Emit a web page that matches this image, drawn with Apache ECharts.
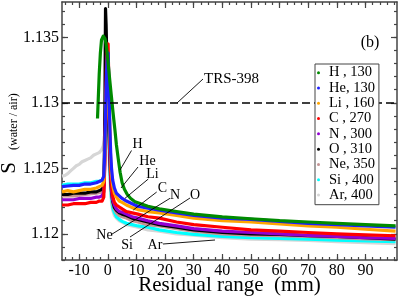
<!DOCTYPE html>
<html>
<head>
<meta charset="utf-8">
<script src="https://cdn.jsdelivr.net/npm/echarts@6/dist/echarts.min.js"></script>
<style>
html,body{margin:0;padding:0;background:#fff;}
#c{width:399px;height:299px;}
</style>
</head>
<body>
<div id="c"></div>
<script>
// ---- data ----
const seriesNames = ['H , 130', 'He, 130', 'Li , 160', 'C , 270', 'N , 300', 'O , 310', 'Ne, 350', 'Si , 400', 'Ar, 400'];

const dataH = [[-3.6,1.1288],[-3.3,1.1305],[-3.0,1.1322],[-2.6,1.1338],[-2.2,1.1348],[-1.6,1.1351],[-1.0,1.1349],[-0.6,1.1345],[0.0,1.1333],[0.6,1.1319],[1.2,1.1306],[1.8,1.1293],[2.5,1.1279],[3.0,1.1268],[3.6,1.1258],[4.3,1.1247],[5.0,1.1239],[5.8,1.1234],[6.8,1.1230],[8.0,1.1227],[9.5,1.12245],[11.5,1.1223],[14,1.1221],[18,1.1219],[24,1.1217],[30,1.1215],[40,1.1213],[50,1.12115],[60,1.1210],[70,1.1209],[80,1.1208],[90,1.1207],[100.5,1.1206]];

const dataHe = [[-16,1.1236],[-14,1.12365],[-12,1.1237],[-10,1.1237],[-8,1.1238],[-6,1.1238],[-4,1.1239],[-3,1.1240],[-2,1.1241],[-1.4,1.1244],[-1.1,1.1260],[-0.8,1.1290],[-0.5,1.1318],[-0.2,1.1336],[0.1,1.1338],[0.4,1.1312],[0.7,1.1282],[1.0,1.1262],[1.3,1.1250],[1.7,1.1241],[2.3,1.1235],[3.0,1.1231],[4.0,1.1229],[5.0,1.1227],[6.5,1.1225],[8.5,1.1223],[10.5,1.1221],[14,1.12195],[18,1.1218],[24,1.1216],[30,1.1214],[40,1.1212],[50,1.1211],[60,1.12095],[70,1.1208],[80,1.1207],[90,1.1206],[100.5,1.1205]];

const dataLi = [[-16,1.1232],[-14,1.1233],[-12,1.1232],[-10,1.1233],[-8,1.1234],[-6,1.1234],[-4,1.1235],[-3,1.1236],[-2,1.1237],[-1.4,1.1240],[-1.1,1.1255],[-0.8,1.1282],[-0.5,1.1310],[-0.2,1.1326],[0.1,1.1328],[0.4,1.1305],[0.7,1.1276],[1.0,1.1256],[1.3,1.1245],[1.7,1.1237],[2.3,1.1231],[3.0,1.1228],[4.0,1.1225],[5.0,1.1224],[6.5,1.1222],[8.5,1.1220],[10.5,1.12185],[14,1.1217],[18,1.1216],[24,1.1214],[30,1.1212],[40,1.1210],[50,1.1209],[60,1.12075],[70,1.1206],[80,1.1205],[90,1.12035],[100.5,1.1202]];

const dataC = [[-16,1.1222],[-14,1.1222],[-12,1.1223],[-10,1.1223],[-8,1.1223],[-6,1.1224],[-4,1.1224],[-3,1.1225],[-2,1.1225],[-1.4,1.1228],[-1.1,1.1250],[-0.8,1.1290],[-0.5,1.1325],[-0.2,1.1343],[0.1,1.1345],[0.4,1.1310],[0.7,1.1272],[1.0,1.1248],[1.3,1.1236],[1.7,1.1229],[2.3,1.1224],[3.0,1.1222],[4.0,1.12205],[5.0,1.1219],[6.5,1.1217],[8.5,1.1216],[10.5,1.1215],[14,1.1213],[18,1.1212],[24,1.1209],[30,1.1207],[40,1.1205],[50,1.1203],[60,1.1202],[70,1.1201],[80,1.1200],[90,1.11992],[100.5,1.11985]];

const dataN = [[-16,1.1226],[-14,1.1226],[-12,1.1226],[-10,1.1227],[-8,1.1227],[-6,1.1227],[-4,1.1228],[-3,1.1228],[-2,1.1229],[-1.4,1.1232],[-1.1,1.1252],[-0.8,1.1285],[-0.5,1.1315],[-0.2,1.1325],[0.1,1.1324],[0.4,1.1298],[0.7,1.1265],[1.0,1.1244],[1.3,1.1233],[1.7,1.1226],[2.3,1.1222],[3.0,1.1219],[4.0,1.1217],[5.0,1.12165],[6.5,1.1215],[8.5,1.1213],[10.5,1.1212],[14,1.1210],[18,1.1208],[24,1.1206],[30,1.1204],[40,1.1202],[50,1.1201],[60,1.1200],[70,1.11988],[80,1.1198],[90,1.1197],[100.5,1.11965]];

const dataO = [[-16,1.1230],[-14,1.1230],[-12,1.1231],[-10,1.1231],[-8,1.1231],[-6,1.1232],[-4,1.1232],[-3,1.1233],[-2,1.1234],[-1.4,1.1237],[-1.2,1.1262],[-1.0,1.1300],[-0.9,1.1340],[-0.8,1.1372],[-0.6,1.1360],[-0.3,1.1330],[0.1,1.1300],[0.4,1.1278],[0.7,1.1258],[1.0,1.1242],[1.3,1.1232],[1.7,1.1225],[2.3,1.1220],[3.0,1.1218],[4.0,1.1216],[5.0,1.1215],[6.5,1.1214],[8.5,1.1212],[10.5,1.1211],[14,1.1209],[18,1.1207],[24,1.1205],[30,1.1203],[40,1.1201],[50,1.1200],[60,1.11995],[70,1.11985],[80,1.1198],[90,1.1197],[100.5,1.1196]];

const dataNe = [[-16,1.1229],[-12,1.1229],[-8,1.1230],[-4,1.1231],[-2,1.1232],[-1.4,1.1235],[-1.1,1.1255],[-0.8,1.1280],[-0.5,1.1300],[-0.2,1.1310],[0.1,1.1305],[0.4,1.1282],[0.7,1.1258],[1.0,1.1240],[1.3,1.1230],[1.7,1.1223],[2.3,1.1219],[3.0,1.1216],[4.0,1.1214],[5.0,1.1213],[6.5,1.1212],[8.5,1.1210],[10.5,1.1209],[14,1.1207],[18,1.1206],[24,1.1204],[30,1.1202],[40,1.1200],[50,1.1199],[60,1.11985],[70,1.1198],[80,1.1197],[90,1.11962],[100.5,1.11955]];

const dataSi = [[-16,1.1237],[-14,1.1238],[-12,1.1238],[-10,1.1238],[-8,1.1239],[-6,1.1239],[-4,1.1240],[-3,1.1240],[-2,1.1241],[-1.4,1.1243],[-1.1,1.1255],[-0.8,1.1275],[-0.5,1.1292],[-0.2,1.1300],[0.1,1.1296],[0.4,1.1275],[0.7,1.1252],[1.0,1.1236],[1.3,1.1227],[1.7,1.1220],[2.3,1.1216],[3.0,1.1213],[4.0,1.1211],[5.0,1.12095],[6.5,1.1208],[8.5,1.1207],[10.5,1.1206],[14,1.1205],[18,1.1203],[24,1.1201],[30,1.11995],[40,1.1198],[50,1.1197],[60,1.11965],[70,1.1196],[80,1.11952],[90,1.11945],[100.5,1.1194]];

const dataAr = [[-16,1.1244],[-15,1.12445],[-14,1.1246],[-13,1.1248],[-12,1.1250],[-11,1.1252],[-10,1.1253],[-9,1.1255],[-8,1.1256],[-7,1.1257],[-6,1.1258],[-5,1.1260],[-4,1.1261],[-3,1.1262],[-2.2,1.1264],[-1.6,1.1267],[-1.2,1.1272],[-0.9,1.1285],[-0.6,1.1292],[-0.3,1.1290],[0.1,1.1280],[0.4,1.1262],[0.7,1.1245],[1.0,1.1232],[1.3,1.1224],[1.7,1.1218],[2.3,1.1214],[3.0,1.1212],[4.0,1.1210],[5.0,1.1209],[6.5,1.1207],[8.5,1.1206],[10.5,1.1205],[14,1.1203],[18,1.1202],[24,1.1200],[30,1.1199],[40,1.1197],[50,1.1196],[60,1.11955],[70,1.1195],[80,1.1194],[90,1.11932],[100.5,1.11925]];

const trsValue = [1.13];

// ---- axis ticks ----
const xMajorTicks = [-10, 0, 10, 20, 30, 40, 50, 60, 70, 80, 90];
const xTickLabels = ['-10', '0', '10', '20', '30', '40', '50', '60', '70', '80', '90'];
const yMajorTicks = [1.12, 1.125, 1.13, 1.135];
const yTickLabels = ['1.12', '1.125', '1.13', '1.135'];
const xMinorTicks = [];
for (let i = -6; i <= 40; i++) xMinorTicks.push(i * 2.5);
const yMinorTicks = [];
for (let i = 1118; i <= 1137; i++) yMinorTicks.push(i / 1000);

// ---- styling ----
const FONT = 'Liberation Serif';
const AX = '#444';
const colors = ['#008b00', '#1f1fff', '#ffa500', '#ff0000', '#9400d3', '#000000', '#c49494', '#00ffff', '#d6d6d6'];
const allData = [dataH, dataHe, dataLi, dataC, dataN, dataO, dataNe, dataSi, dataAr];

const X_MIN = -16, X_MAX = 101, Y_MIN = 1.118, Y_MAX = 1.1377;

function xAx(pos, ticks, len, main) {
  return {
    type: 'value', position: pos, min: X_MIN, max: X_MAX,
    axisLine: { show: main, onZero: false, lineStyle: { color: AX, width: 1.5 } },
    axisTick: { show: true, inside: true, length: len, customValues: ticks, lineStyle: { color: AX, width: 1.2 } },
    axisLabel: main && pos === 'bottom' ? {
      customValues: xMajorTicks, margin: 3, color: '#000', fontFamily: FONT, fontSize: 16,
      formatter: v => xTickLabels[xMajorTicks.indexOf(v)] ?? ''
    } : { show: false },
    splitLine: { show: false },
    name: main && pos === 'bottom' ? 'Residual range  (mm)' : '',
    nameLocation: 'middle', nameGap: 15, nameMoveOverlap: false,
    nameTextStyle: { fontFamily: FONT, fontSize: 21, color: '#000' }
  };
}
function yAx(pos, ticks, len, main) {
  const isLeftMain = main && pos === 'left';
  return {
    type: 'value', position: pos, min: Y_MIN, max: Y_MAX,
    axisLine: { show: main, onZero: false, lineStyle: { color: AX, width: 1.5 } },
    axisTick: { show: true, inside: true, length: len, customValues: ticks, lineStyle: { color: AX, width: 1.2 } },
    axisLabel: isLeftMain ? {
      customValues: yMajorTicks, margin: 3, color: '#000', fontFamily: FONT, fontSize: 16,
      formatter: v => { const i = yMajorTicks.findIndex(t => Math.abs(t - v) < 1e-9); return i >= 0 ? yTickLabels[i] : ''; }
    } : { show: false },
    splitLine: { show: false },
    name: isLeftMain ? '{s|S}{sub|(water / air)}' : '',
    nameLocation: 'middle', nameGap: 42, nameMoveOverlap: false,
    nameTextStyle: {
      fontFamily: FONT, color: '#000', padding: [0, 5, 0, 0],
      rich: {
        s: { fontFamily: FONT, fontSize: 21, color: '#000' },
        sub: { fontFamily: FONT, fontSize: 12, color: '#000', verticalAlign: 'bottom', padding: [0, 0, 0, 12] }
      }
    }
  };
}

const series = [];
for (let k = allData.length - 1; k >= 0; k--) {
  const s = {
    name: seriesNames[k], type: 'line', xAxisIndex: 0, yAxisIndex: 0,
    data: allData[k], showSymbol: false, symbol: 'circle', symbolSize: 3,
    lineStyle: { color: colors[k], width: 3.2, join: 'round' },
    itemStyle: { color: colors[k] },
    emphasis: { disabled: true }, silent: true, z: 2
  };
  if (k === 0) {
    s.markLine = {
      silent: true, symbol: 'none', animation: false,
      label: { show: false },
      lineStyle: { color: '#000', width: 1.5, type: [8, 4] },
      data: [{ yAxis: trsValue[0] }]
    };
  }
  series.push(s);
}

const T = (text, x, y, size, align) => ({
  type: 'text', x: x, y: y, z: 50,
  style: { text: text, fontFamily: FONT, fontSize: size || 14, fill: '#000', align: align || 'center', verticalAlign: 'middle' }
});
const L = (x1, y1, x2, y2) => ({
  type: 'line', z: 50, shape: { x1: x1, y1: y1, x2: x2, y2: y2 },
  style: { stroke: '#000', lineWidth: 0.9 }
});

const option = {
  animation: false,
  backgroundColor: '#fff',
  grid: { left: 62, right: 2, top: 2, bottom: 39, containLabel: false, outerBoundsMode: 'none' },
  xAxis: [xAx('bottom', xMajorTicks, 6, true), xAx('bottom', xMinorTicks, 3, false), xAx('top', xMajorTicks, 6, true), xAx('top', xMinorTicks, 3, false)],
  yAxis: [yAx('left', yMajorTicks, 6, true), yAx('left', yMinorTicks, 3, false), yAx('right', yMajorTicks, 6, true), yAx('right', yMinorTicks, 3, false)],
  legend: {
    orient: 'vertical', left: 315, top: 64, z: 30, zlevel: 1,
    itemWidth: 11, itemHeight: 3, itemGap: 0, icon: 'circle',
    padding: [1, 4, 2, 2], backgroundColor: '#fff', borderColor: '#444', borderWidth: 1, borderRadius: 0,
    textStyle: { fontFamily: FONT, fontSize: 14.5, color: '#000', lineHeight: 15.3 },
    selectedMode: false,
    data: seriesNames
  },
  series: series,
  graphic: [
    T('(b)', 370, 43, 16),
    T('TRS-398', 204, 79, 15, 'left'),
    L(177, 103, 203, 79),
    T('H', 137.5, 144), L(131.5, 150.5, 120, 170),
    T('He', 147.5, 161), L(138, 167, 121, 188),
    T('Li', 152.5, 174), L(148.3, 179, 125, 198.3),
    T('C', 162.5, 188), L(156.7, 192, 133.3, 210),
    T('N', 175, 195), L(170, 198.3, 111.7, 234.3),
    T('O', 195, 195), L(190, 198, 130, 237),
    T('Ne', 104.5, 235),
    T('Si', 127, 245),
    T('Ar', 155, 245), L(163, 244, 215, 240)
  ]
};

const chart = echarts.init(document.getElementById('c'), null, { renderer: 'canvas' });
chart.setOption(option);
</script>
</body>
</html>
